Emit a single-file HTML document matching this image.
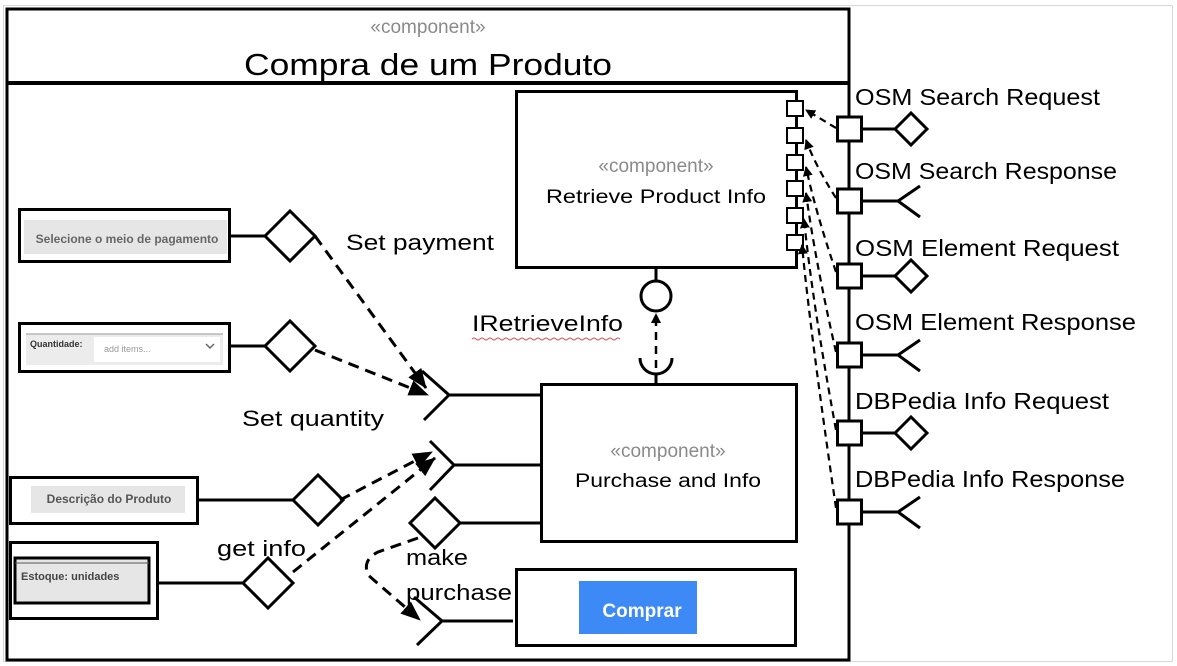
<!DOCTYPE html>
<html><head><meta charset="utf-8"><style>
html,body{margin:0;padding:0;background:#fff;}
svg{display:block;}
text{font-family:"Liberation Sans",sans-serif;}
</style></head><body>
<svg width="1177" height="666" viewBox="0 0 1177 666" xmlns="http://www.w3.org/2000/svg">
<defs>
<marker id="ah" markerWidth="10" markerHeight="10" refX="9" refY="5" orient="auto" markerUnits="userSpaceOnUse" viewBox="0 0 10 10">
<path d="M0,0 L10,5 L0,10 z" fill="#000"/></marker>
<marker id="ahb" markerWidth="20" markerHeight="16" refX="19" refY="8" orient="auto" markerUnits="userSpaceOnUse" viewBox="0 0 20 16">
<path d="M0,0 L20,8 L0,16 z" fill="#000"/></marker>
</defs>
<rect x="3.5" y="5.5" width="1169" height="656" fill="#fff" stroke="#d8d8d8" stroke-width="1"/>
<!-- main component -->
<rect x="7" y="9" width="842" height="651" fill="#fff" stroke="#000" stroke-width="3"/>
<line x1="7" y1="83" x2="849" y2="83" stroke="#000" stroke-width="4"/>
<text x="428" y="33" font-size="19" fill="#8a8a8a" text-anchor="middle">«component»</text>
<text x="428" y="75" font-size="31" fill="#000" text-anchor="middle" textLength="368" lengthAdjust="spacingAndGlyphs">Compra de um Produto</text>

<!-- Retrieve Product Info -->
<rect x="516.5" y="91.5" width="280" height="176" fill="#fff" stroke="#000" stroke-width="3"/>
<text x="656" y="172" font-size="19" fill="#8a8a8a" text-anchor="middle">«component»</text>
<text x="656" y="203" font-size="19" fill="#000" text-anchor="middle" textLength="220" lengthAdjust="spacingAndGlyphs">Retrieve Product Info</text>
<g fill="#fff" stroke="#000" stroke-width="2">
<rect x="787" y="101" width="16" height="15"/>
<rect x="787" y="128" width="16" height="15"/>
<rect x="787" y="155" width="16" height="15"/>
<rect x="787" y="181" width="16" height="15"/>
<rect x="787" y="208" width="16" height="15"/>
<rect x="787" y="235" width="16" height="15"/>
</g>

<!-- lollipop -->
<line x1="656" y1="267" x2="656" y2="282" stroke="#000" stroke-width="3"/>
<circle cx="656" cy="296" r="15" fill="#fff" stroke="#000" stroke-width="3"/>
<path d="M640,358 A16,16 0 0 0 672,358" fill="none" stroke="#000" stroke-width="3"/>
<line x1="656" y1="374" x2="656" y2="384" stroke="#000" stroke-width="3"/>
<line x1="656" y1="368" x2="656" y2="314" stroke="#000" stroke-width="2.5" stroke-dasharray="8,6" marker-end="url(#ah)"/>
<text x="472" y="331" font-size="22" fill="#000" textLength="151" lengthAdjust="spacingAndGlyphs">IRetrieveInfo</text>
<path d="M472,339 q2,-2 4,0 t4,0 t4,0 t4,0 t4,0 t4,0 t4,0 t4,0 t4,0 t4,0 t4,0 t4,0 t4,0 t4,0 t4,0 t4,0 t4,0 t4,0 t4,0 t4,0 t4,0 t4,0 t4,0 t4,0 t4,0 t4,0 t4,0 t4,0 t4,0 t4,0 t4,0 t4,0 t4,0 t4,0 t4,0 t4,0 t4,0" fill="none" stroke="#e05050" stroke-width="1"/>

<!-- Purchase and Info -->
<rect x="541.5" y="384.5" width="255" height="157" fill="#fff" stroke="#000" stroke-width="3"/>
<text x="668" y="457" font-size="19" fill="#8a8a8a" text-anchor="middle">«component»</text>
<text x="668" y="487" font-size="19" fill="#000" text-anchor="middle" textLength="186" lengthAdjust="spacingAndGlyphs">Purchase and Info</text>

<g fill="none" stroke="#000" stroke-width="3">
<!-- sockets on purchase -->
<line x1="449" y1="395" x2="541" y2="395"/>
<polyline points="422,371 449,395 424,420"/>
<line x1="454" y1="465" x2="541" y2="465"/>
<polyline points="430,441 454,465 430,490"/>
<line x1="460" y1="523" x2="541" y2="523"/>
<polygon points="410,523 435,498 460,523 435,548" fill="#fff"/>
<!-- comprar socket -->
<line x1="442" y1="621" x2="513" y2="621"/>
<polyline points="414,597 442,621 417,645"/>
</g>

<!-- Comprar box -->
<rect x="516.5" y="569.5" width="279" height="76" fill="#fff" stroke="#000" stroke-width="3"/>
<rect x="579" y="581" width="118" height="53" fill="#3d8af7"/>
<text x="642" y="617" font-size="19" font-weight="bold" fill="#fff" text-anchor="middle">Comprar</text>

<!-- left boxes -->
<rect x="19.5" y="209.5" width="210" height="52" fill="#fff" stroke="#000" stroke-width="3"/>
<rect x="24" y="220" width="203" height="34" fill="#e6e6e6"/>
<text x="127" y="243" font-size="12" font-weight="bold" fill="#666" text-anchor="middle">Selecione o meio de pagamento</text>

<rect x="19.5" y="323.5" width="210" height="48" fill="#fff" stroke="#000" stroke-width="3"/>
<rect x="26" y="334" width="197" height="31" fill="#ececec"/>
<line x1="26" y1="334" x2="223" y2="334" stroke="#999" stroke-width="1"/>
<rect x="94" y="337" width="126" height="25" fill="#fff"/>
<text x="30" y="347" font-size="9" font-weight="bold" fill="#333">Quantidade:</text>
<text x="104" y="352" font-size="9" fill="#999">add items...</text>
<polyline points="206,344 210,348 214,344" fill="none" stroke="#666" stroke-width="1.5"/>

<rect x="10.5" y="477.5" width="187" height="46" fill="#fff" stroke="#000" stroke-width="3"/>
<rect x="31" y="486" width="154" height="27" fill="#e6e6e6"/>
<text x="109" y="503" font-size="12" font-weight="bold" fill="#555" text-anchor="middle">Descrição do Produto</text>

<rect x="10.5" y="542.5" width="147" height="76" fill="#fff" stroke="#000" stroke-width="3"/>
<rect x="15" y="558" width="134" height="45" fill="#e6e6e6" stroke="#000" stroke-width="3"/>
<line x1="15" y1="563" x2="149" y2="563" stroke="#555" stroke-width="1"/>
<text x="21" y="580" font-size="11" font-weight="bold" fill="#444">Estoque:  unidades</text>

<g fill="#fff" stroke="#000" stroke-width="3">
<line x1="229" y1="236" x2="265" y2="236"/>
<polygon points="265,236 290,211 315,236 290,261"/>
<line x1="229" y1="346" x2="265" y2="346"/>
<polygon points="265,346 290,321 315,346 290,371"/>
<line x1="197" y1="500" x2="293" y2="500"/>
<polygon points="293,500 318,475 343,500 318,525"/>
<line x1="157" y1="583" x2="243" y2="583"/>
<polygon points="243,583 268,558 293,583 268,608"/>
</g>

<!-- dashed connectors left -->
<g fill="none" stroke="#000" stroke-width="3" stroke-dasharray="11,7">
<line x1="315" y1="236" x2="426" y2="388" marker-end="url(#ahb)"/>
<line x1="315" y1="350" x2="428" y2="395" marker-end="url(#ahb)"/>
<line x1="340" y1="500" x2="432" y2="452" marker-end="url(#ahb)"/>
<line x1="293" y1="572" x2="435" y2="458" marker-end="url(#ahb)"/>
<path d="M418,538 L378,552 Q362,560 368,575 L420,620" marker-end="url(#ahb)"/>
</g>

<text x="346" y="250" font-size="22" fill="#000" textLength="148" lengthAdjust="spacingAndGlyphs">Set payment</text>
<text x="242" y="426" font-size="22" fill="#000" textLength="142" lengthAdjust="spacingAndGlyphs">Set quantity</text>
<text x="217" y="556" font-size="22" fill="#000" textLength="89" lengthAdjust="spacingAndGlyphs">get info</text>
<text x="406" y="565" font-size="22" fill="#000" textLength="62" lengthAdjust="spacingAndGlyphs">make</text>
<text x="406" y="600" font-size="22" fill="#000" textLength="106" lengthAdjust="spacingAndGlyphs">purchase</text>

<!-- right ports -->
<g fill="#fff" stroke="#000" stroke-width="3">
<line x1="862" y1="129" x2="895" y2="129"/><rect x="837.5" y="117" width="24" height="24"/>
<polygon points="895,129 911,113 927,129 911,145"/>
<line x1="862" y1="201" x2="898" y2="201"/><rect x="837.5" y="189" width="24" height="24"/>
<polyline points="920,186 898,201 920,217" fill="none"/>
<line x1="862" y1="276" x2="895" y2="276"/><rect x="837.5" y="264" width="24" height="24"/>
<polygon points="895,276 911,260 927,276 911,292"/>
<line x1="862" y1="355" x2="898" y2="355"/><rect x="837.5" y="343" width="24" height="24"/>
<polyline points="920,340 898,355 920,371" fill="none"/>
<line x1="862" y1="433" x2="895" y2="433"/><rect x="837.5" y="421" width="24" height="24"/>
<polygon points="895,433 911,417 927,433 911,449"/>
<line x1="862" y1="512" x2="898" y2="512"/><rect x="837.5" y="500" width="24" height="24"/>
<polyline points="920,497 898,512 920,528" fill="none"/>
</g>

<g font-size="23" fill="#000">
<text x="855" y="105" textLength="245" lengthAdjust="spacingAndGlyphs">OSM Search Request</text>
<text x="855" y="179" textLength="262" lengthAdjust="spacingAndGlyphs">OSM Search Response</text>
<text x="855" y="256" textLength="264" lengthAdjust="spacingAndGlyphs">OSM Element Request</text>
<text x="855" y="330" textLength="281" lengthAdjust="spacingAndGlyphs">OSM Element Response</text>
<text x="855" y="409" textLength="254" lengthAdjust="spacingAndGlyphs">DBPedia Info Request</text>
<text x="855" y="487" textLength="270" lengthAdjust="spacingAndGlyphs">DBPedia Info Response</text>
</g>

<!-- right dashed -->
<g fill="none" stroke="#000" stroke-width="2.2" stroke-dasharray="7,5">
<path d="M836,128 L806,110" marker-end="url(#ah)"/>
<path d="M836,198 Q815,165 806,140" marker-end="url(#ah)"/>
<path d="M836,272 Q815,210 806,167" marker-end="url(#ah)"/>
<path d="M836,352 Q815,260 806,193" marker-end="url(#ah)"/>
<path d="M836,430 Q812,300 804,219" marker-end="url(#ah)"/>
<path d="M836,508 Q810,330 802,245" marker-end="url(#ah)"/>
</g>
</svg>
</body></html>
